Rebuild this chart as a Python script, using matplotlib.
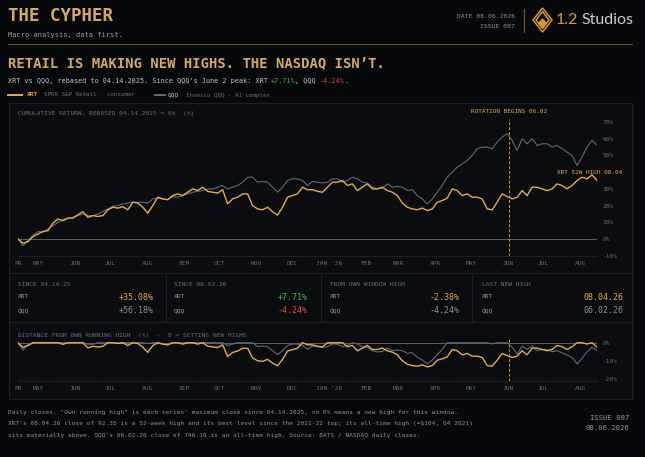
import matplotlib
matplotlib.use('Agg')
import matplotlib.pyplot as plt
import matplotlib.transforms as mtransforms
from matplotlib.patches import Rectangle, Polygon
from matplotlib.lines import Line2D
import numpy as np
import pandas as pd

# cumulative return since 04.14.2025 in %, every few days
xrt = [0, -2.5, -1.5, 1.5, 3, 4.5, 5, 9.5, 12, 11,
       12.5, 12.5, 14.5, 16.3, 13, 14, 13.5, 14, 17.5, 19,
       18.5, 19.3, 17.5, 22, 21.5, 19, 15.5, 20, 25, 24,
       23.5, 26, 27, 26, 28, 30, 29, 31, 28.5, 28,
       27.5, 29.5, 21, 24, 25, 27, 27, 20, 18, 17.5,
       19, 16.3, 14.3, 19, 25, 26, 27, 31, 29.5, 29.5,
       28.5, 28, 31, 34, 34, 35, 32, 33, 29, 31,
       33, 30, 30, 31, 29, 28, 26, 21.5, 19, 18,
       17.5, 18.5, 17, 18, 22, 23, 24.5, 30, 29, 26,
       27, 25, 25, 24, 18, 17.5, 22, 27, 25.4, 24,
       25, 29, 26, 31, 31, 30, 29, 30, 33, 32,
       30, 32, 35, 37, 36, 38.4, 35.08]
qqq = [0, -4, -1, 2, 4.5, 4, 6, 8, 10, 11.5,
       12.5, 13, 14, 15, 14, 14, 15, 16.5, 18, 19.5,
       20, 21, 21.5, 22, 22, 22, 21.5, 24, 24.5, 24,
       23.5, 25.4, 25, 26, 27, 28, 28.5, 29, 30, 30,
       31, 32, 30, 31, 32, 34, 37, 37, 34, 34.5,
       34, 31, 28, 31, 35, 36, 36, 35, 32, 34.5,
       34, 33.5, 34, 36, 36, 34, 35, 37, 36, 34,
       33.5, 31, 30, 30.5, 33, 31, 31.5, 31, 29, 29.5,
       26, 24, 21, 24, 28, 32, 37, 40, 43, 45,
       47, 50, 54, 55, 55, 54, 58, 61, 63.1, 59,
       53, 60, 57, 60, 56, 57, 57, 55, 56, 54,
       52, 50, 44, 49, 55, 59, 56.18]
start_day, end_day = '2025-04-14', '2026-08-15'
rotation_day = '2026-06-02'

month_days = ['2025-04-14', '2025-05-01', '2025-06-01', '2025-07-01', '2025-08-01',
              '2025-09-01', '2025-10-01', '2025-11-01', '2025-12-01', '2026-01-01',
              '2026-02-01', '2026-03-01', '2026-04-01', '2026-05-01', '2026-06-01',
              '2026-07-01', '2026-08-01']
month_labels = ['PR', 'MAY', 'JUN', 'JUL', 'AUG', 'SEP', 'OCT', 'NOV', 'DEC', "JAN '26",
                'FEB', 'MAR', 'APR', 'MAY', 'JUN', 'JUL', 'AUG']
main_ticks = [-10, 0, 10, 20, 30, 40, 50, 60, 70]
main_tick_labels = ['-10%', '0%', '10%', '20%', '30%', '', '50%', '60%', '70%']
dd_ticks = [-20, -10, 0]
dd_tick_labels = ['-20%', '-10%', '0%']

stat_heads = ['SINCE 04.14.25', 'SINCE 06.02.26', 'FROM OWN WINDOW HIGH', 'LAST NEW HIGH']
stat_xrt = ['+35.08%', '+7.71%', '-2.38%', '08.04.26']
stat_qqq = ['+56.18%', '-4.24%', '-4.24%', '06.02.26']

footer = ["Daily closes. \"Own running high\" is each series' maximum close since 04.14.2025, so 0% means a new high for this window.",
          "XRT's 08.04.26 close of 92.35 is a 52-week high and its best level since the 2021-22 top; its all-time high (\u2248$104, Q4 2021)",
          "sits materially above. QQQ's 06.02.26 close of 746.16 is an all-time high. Source: BATS / NASDAQ daily closes."]

BG = '#07080b'
PANEL = '#0a0c10'
BORDER = '#1c2027'
GRID = '#22272f'
GOLD = '#e6aa48'
TGOLD = '#d6a862'
SLATE = '#5b6b81'
SLATE_T = '#8491a5'
TEXT = '#c3c6cb'
MUTED = '#6b7077'
GREEN = '#3dbd4d'
RED = '#e3473b'
MONO = 'DejaVu Sans Mono'

W, H = 645, 457


def fx(px):
    return px / W


def fy(py):
    return 1 - py / H


def box(x0, y0, x1, y1):
    return [fx(x0), fy(y1), fx(x1) - fx(x0), fy(y0) - fy(y1)]


def cw(size):
    # advance of one DejaVu Sans Mono glyph, in pixels
    return 0.6021 * size * 100 / 72


def run_text(x, y, parts, size, weight='normal'):
    for s, c in parts:
        fig.text(fx(x), fy(y), s, color=c, fontsize=size, family=MONO,
                 weight=weight, va='center', ha='left')
        x += len(s) * cw(size)


def hline(x0, x1, y, color=BORDER, lw=0.8):
    fig.add_artist(Line2D([fx(x0), fx(x1)], [fy(y), fy(y)], color=color, lw=lw,
                          transform=fig.transFigure))


def vline(x, y0, y1, color=BORDER, lw=0.8):
    fig.add_artist(Line2D([fx(x), fx(x)], [fy(y0), fy(y1)], color=color, lw=lw,
                          transform=fig.transFigure))


dates = pd.date_range(start_day, end_day, periods=len(xrt))
xrt_a = np.array(xrt)
qqq_a = np.array(qqq)
xrt_dd = ((1 + xrt_a / 100) / np.maximum.accumulate(1 + xrt_a / 100) - 1) * 100
qqq_dd = ((1 + qqq_a / 100) / np.maximum.accumulate(1 + qqq_a / 100) - 1) * 100

fig = plt.figure(figsize=(6.45, 4.57), dpi=100)
fig.patch.set_facecolor(BG)

# header
fig.text(fx(8), fy(16), 'THE CYPHER', family=MONO, weight='bold', fontsize=12.6,
         color=TGOLD, va='center')
fig.text(fx(8), fy(35), 'Macro analysis, data first.', family=MONO, fontsize=5,
         color='#9a9ea4', va='center')
hline(8, 632, 44, color='#5e4a24', lw=0.9)
fig.text(fx(515), fy(16), 'DATE 08.06.2026', family=MONO, fontsize=4.6,
         color='#8d9197', va='center', ha='right')
fig.text(fx(515), fy(26), 'ISSUE 087', family=MONO, fontsize=4.6,
         color='#8d9197', va='center', ha='right')
vline(524, 9, 32, color='#6b5426', lw=0.9)

# logo
cx, cy = 542.5, 20
for hw, hh in [(9.5, 12), (6.5, 8.5)]:
    fig.add_artist(Polygon([(fx(cx), fy(cy - hh)), (fx(cx + hw), fy(cy)),
                            (fx(cx), fy(cy + hh)), (fx(cx - hw), fy(cy))],
                           closed=True, fill=False, edgecolor='#d49a3c', lw=1.1,
                           transform=fig.transFigure))
fig.add_artist(Polygon([(fx(cx), fy(cy - 1)), (fx(cx + 3.5), fy(cy + 3)),
                        (fx(cx), fy(cy + 7)), (fx(cx - 3.5), fy(cy + 3))],
                       closed=True, color='#d49a3c', transform=fig.transFigure))
t12 = fig.text(fx(556), fy(20.5), '1.2', family='Lato', fontsize=11.5,
               color='#d49a3c', va='center')
rend = fig.canvas.get_renderer()
bb = t12.get_window_extent(renderer=rend)
fig.text(fx(556) + (bb.width + 3.5) / W, fy(20.5), 'Studios', family='Lato',
         fontsize=11.5, color='#c9ccd1', va='center')

# headline and subtitle
fig.text(fx(8), fy(63.5), "RETAIL IS MAKING NEW HIGHS. THE NASDAQ ISN\u2019T.", family=MONO,
         weight='bold', fontsize=10, color=TGOLD, va='center')
run_text(8, 81, [("XRT vs QQQ, rebased to 04.14.2025. Since QQQ's June 2 peak: XRT ", TEXT),
                 ('+7.71%', GREEN), (', QQQ ', TEXT), ('-4.24%', RED), ('.', TEXT)], 4.9)

# legend
fig.add_artist(Line2D([fx(8), fx(22)], [fy(95), fy(95)], color=GOLD, lw=1.4,
                      transform=fig.transFigure))
fig.text(fx(27), fy(95), 'XRT', family=MONO, weight='bold', fontsize=4.4, color=GOLD, va='center')
fig.text(fx(44), fy(95), 'SPDR S&P Retail \u00b7 consumer', family=MONO, fontsize=4.2,
         color=MUTED, va='center')
fig.add_artist(Line2D([fx(155), fx(165)], [fy(95), fy(95)], color=SLATE, lw=1.4,
                      transform=fig.transFigure))
fig.text(fx(168), fy(95), 'QQQ', family=MONO, weight='bold', fontsize=4.4, color=SLATE_T, va='center')
fig.text(fx(186), fy(95), 'Invesco QQQ \u00b7 AI complex', family=MONO, fontsize=4.2,
         color=MUTED, va='center')

# container and stats grid
fig.add_artist(Rectangle((fx(9), fy(399)), fx(632) - fx(9), fy(103) - fy(399),
                         transform=fig.transFigure, facecolor=PANEL, edgecolor=BORDER,
                         lw=0.8, zorder=-5))
hline(9, 632, 273)
hline(9, 632, 322)
for xv in [165.5, 320.5, 472]:
    vline(xv, 273, 322)

col_left = [18, 174, 330, 482]
col_right = [154, 308, 460, 623]
for i in range(4):
    fig.text(fx(col_left[i]), fy(284), stat_heads[i], family=MONO, fontsize=4.5,
             color=MUTED, va='center')
    fig.text(fx(col_left[i]), fy(297), 'XRT', family=MONO, fontsize=4.5, color='#9a9ea4', va='center')
    fig.text(fx(col_left[i]), fy(310.5), 'QQQ', family=MONO, fontsize=4.5, color='#9a9ea4', va='center')
    c1, c2 = (GREEN, RED) if i == 1 else (GOLD, SLATE_T)
    fig.text(fx(col_right[i]), fy(297), stat_xrt[i], family=MONO, fontsize=6, color=c1,
             va='center', ha='right')
    fig.text(fx(col_right[i]), fy(310.5), stat_qqq[i], family=MONO, fontsize=6, color=c2,
             va='center', ha='right')

fig.text(fx(18), fy(114), 'CUMULATIVE RETURN, REBASED 04.14.2025 = 0%  (%)', family=MONO,
         fontsize=4.4, color=MUTED, va='center')
fig.text(fx(18), fy(335), 'DISTANCE FROM OWN RUNNING HIGH  (%)  \u00b7  0 = SETTING NEW HIGHS',
         family=MONO, fontsize=4.4, color=MUTED, va='center')


def style(ax, ticks, labels, ylim):
    ax.set_facecolor('none')
    ax.set_xlim(pd.Timestamp(start_day), pd.Timestamp(end_day))
    ax.set_ylim(*ylim)
    ax.yaxis.tick_right()
    ax.set_yticks(ticks)
    ax.set_yticklabels(labels)
    ax.set_xticks(pd.to_datetime(month_days))
    ax.set_xticklabels(month_labels)
    ax.tick_params(length=0, labelsize=4.4, labelcolor=MUTED, pad=4)
    for lab in ax.get_xticklabels() + ax.get_yticklabels():
        lab.set_family(MONO)
    for s in ['top', 'left', 'right']:
        ax.spines[s].set_visible(False)
    ax.spines['bottom'].set_color(BORDER)
    ax.spines['bottom'].set_linewidth(0.8)
    for t in ticks:
        ax.axhline(t, color=GRID, lw=0.5, ls=(0, (1, 2)), zorder=0)
    ax.axhline(0, color='#5c6066', lw=0.7, zorder=1)
    ax.axvline(pd.Timestamp(rotation_day), color='#d99a2b', lw=0.7, ls=(0, (3, 2)), zorder=2)


ax = fig.add_axes(box(18, 118.7, 597, 255.7))
style(ax, main_ticks, main_tick_labels, (-10, 72))
ax.plot(dates, qqq, color=SLATE, lw=0.8, zorder=3)
ax.plot(dates, xrt, color=GOLD, lw=1.0, zorder=4)
bt = mtransforms.blended_transform_factory(ax.transData, ax.transAxes)
ax.text(pd.Timestamp(rotation_day), 1.032, 'ROTATION BEGINS 06.02', transform=bt,
        family=MONO, fontsize=4.3, color=GOLD, ha='center', va='bottom')
bt2 = mtransforms.blended_transform_factory(ax.transAxes, ax.transData)
ax.text(1.043, 40, 'XRT 52W HIGH 08.04', transform=bt2, family=MONO, fontsize=4.3,
        color=GOLD, ha='right', va='center', clip_on=False)

ax2 = fig.add_axes(box(18, 339.1, 597, 380.8))
style(ax2, dd_ticks, dd_tick_labels, (-21, 2))
ax2.plot(dates, qqq_dd, color=SLATE, lw=0.8, zorder=3)
ax2.plot(dates, xrt_dd, color=GOLD, lw=1.0, zorder=4)

# footer
for i, line in enumerate(footer):
    fig.text(fx(8), fy(412.3 + 11.7 * i), line, family=MONO, fontsize=4.45, color='#8f9399',
             va='center')
fig.text(fx(629), fy(417.7), 'ISSUE 087', family=MONO, fontsize=5.2, color='#8f9399',
         va='center', ha='right')
fig.text(fx(629), fy(428.3), '08.06.2026', family=MONO, fontsize=5.2, color='#8f9399',
         va='center', ha='right')

fig.savefig('out.png', dpi=100, facecolor=BG)
